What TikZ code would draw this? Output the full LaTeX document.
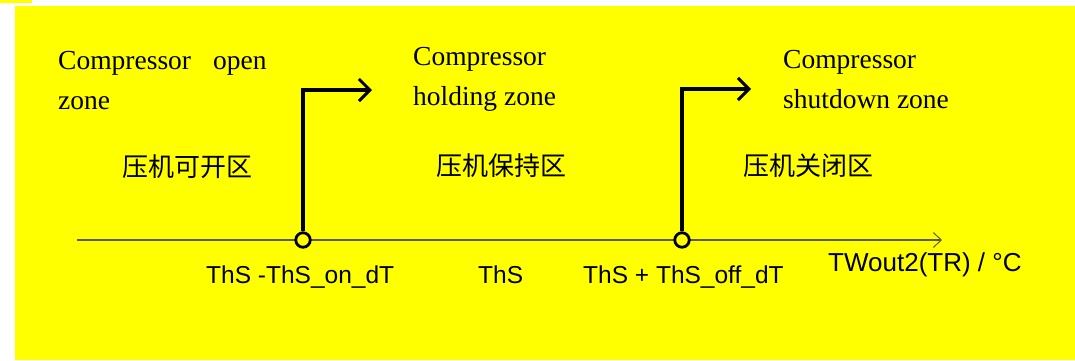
\documentclass[tikz,border=0pt]{standalone}
\usepackage{fontspec}
\setmainfont{Liberation Serif}
\setsansfont{Liberation Sans}
\newfontfamily\cjk{Noto Sans CJK SC}
\usetikzlibrary{arrows.meta}
\definecolor{bgyellow}{RGB}{255,255,0}
\definecolor{axisgray}{RGB}{90,90,60}
\tikzset{
  entxt/.style={anchor=base west, inner sep=0pt, font=\fontsize{27.5}{33}\selectfont},
  cntxt/.style={anchor=west, inner sep=0pt, font=\cjk\fontsize{26}{30}\selectfont},
  valtxt/.style={anchor=base west, inner sep=0pt, font=\sffamily\fontsize{24.5}{29}\selectfont},
  unittxt/.style={anchor=base west, inner sep=0pt, font=\sffamily\fontsize{26}{31}\selectfont},
  axisline/.style={draw=axisgray, line width=1.1pt, -{Straight Barb[length=8pt,width=15pt,line width=1pt]}},
  marker/.style={circle, draw=black, fill=bgyellow, line width=2.8pt, minimum size=14.5pt, inner sep=0pt},
  jump/.style={draw=black, line width=3.2pt, line join=miter, -{Straight Barb[length=11pt,width=22pt,line width=3pt]}}
}
\begin{document}
\begin{tikzpicture}[x=1pt,y=-1pt]
\useasboundingbox (0,0) rectangle (1075,360);
\fill[bgyellow] (15,6) rectangle (1075,360);
\fill[bgyellow] (0,0) rectangle (32,3);
% texts, top
\node[entxt] (c1a) at (58,69) {Compressor\hskip 22pt open};
\node[entxt] (c1b) at (58,109) {zone};
\node[entxt] (c2a) at (413,65) {Compressor};
\node[entxt] (c2b) at (413,105) {holding zone};
\node[entxt] (c3a) at (783,68) {Compressor};
\node[entxt] (c3b) at (783,108) {shutdown zone};
% chinese labels
\node[cntxt] (z1) at (122,167) {压机可开区};
\node[cntxt] (z2) at (436,166) {压机保持区};
\node[cntxt] (z3) at (743,166) {压机关闭区};
% axis
\coordinate (ax0) at (77,240);
\coordinate (ax1) at (942,240);
\draw[axisline] (ax0) -- (ax1);
\node[marker] (m1) at (303,240) {};
\node[marker] (m2) at (682,240) {};
\coordinate (k1) at (303,90);
\coordinate (e1) at (372,90);
\coordinate (k2) at (682,89);
\coordinate (e2) at (751,89);
\draw[jump] (m1.north) -- (k1) -- (e1);
\draw[jump] (m2.north) -- (k2) -- (e2);
% value labels
\node[valtxt] (v1) at (206,283) {ThS -ThS\_on\_dT};
\node[valtxt] (v2) at (478,283) {ThS};
\node[valtxt] (v3) at (583,283) {ThS + ThS\_off\_dT};
\node[unittxt] (u) at (828,271) {TWout2(TR) / °C};
\end{tikzpicture}
\end{document}
